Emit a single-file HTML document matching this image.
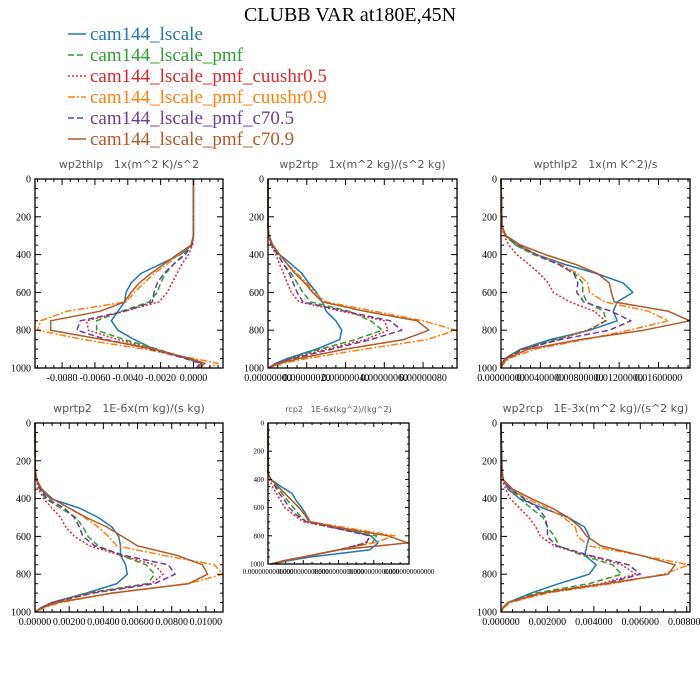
<!DOCTYPE html>
<html><head><meta charset="utf-8"><style>
body{margin:0;background:#fff}
svg{display:block}
.t{font-family:"Liberation Serif",serif}
.pt{font-family:"DejaVu Sans",sans-serif;fill:#555;white-space:pre}
</style></head><body>
<svg id="c" width="700" height="700" xmlns="http://www.w3.org/2000/svg">
<text class="t" x="350" y="21" text-anchor="middle" font-size="20">CLUBB VAR at180E,45N</text>
</svg>
<script>
const P=[0,250,300,350,400,450,500,550,600,650,700,750,800,850,900,950,975,1000];
const seriesNames=["cam144_lscale","cam144_lscale_pmf","cam144_lscale_pmf_cuushr0.5","cam144_lscale_pmf_cuushr0.9","cam144_lscale_pmf_c70.5","cam144_lscale_pmf_c70.9"];
const wp2thlp=[
[0,0,0,-0.1,-0.8,-2.0,-3.2,-3.8,-4.1,-4.2,-4.6,-5.0,-4.6,-3.6,-2.4,-0.4,0.5,0.2],
[0,0,0,-0.1,-0.6,-1.2,-1.7,-2.0,-2.2,-2.7,-4.4,-5.9,-5.9,-4.2,-2.2,-0.4,0.5,0.2],
[0,0,0,-0.05,-0.3,-0.7,-1.0,-1.3,-1.6,-2.1,-4.2,-6.5,-6.4,-4.6,-2.4,-0.4,0.55,0.3],
[0,0,0,-0.15,-0.9,-1.6,-2.4,-3.0,-3.6,-4.1,-7.7,-9.3,-9.5,-6.7,-3.0,0,1.5,0.9],
[0,0,0,-0.1,-0.5,-1.2,-1.8,-2.2,-2.4,-2.5,-4.2,-6.9,-7.1,-5.3,-2.6,-0.5,0.4,0.2],
[0,0,0,-0.15,-1.0,-1.8,-2.6,-3.3,-3.8,-4.2,-5.7,-8.7,-8.7,-5.5,-2.4,-0.2,0.7,0.4]];
const wp2rtp=[
[0,0,0.05,0.2,0.6,1.2,1.75,2.1,2.5,2.8,3.0,3.5,3.8,3.7,2.5,1.0,0.4,0],
[0,0,0.05,0.2,0.5,0.8,1.2,1.5,1.8,2.2,4.2,5.3,5.9,4.5,2.7,1.1,0.5,0],
[0,0,0.05,0.15,0.4,0.6,0.8,1.0,1.2,1.6,3.8,6.0,6.2,5.0,3.0,1.2,0.5,0],
[0,0,0.05,0.25,0.6,1.0,1.5,2.0,2.4,3.0,5.5,8.0,9.7,8.2,5.0,2.0,0.8,0],
[0,0,0.05,0.2,0.5,0.8,1.1,1.3,1.5,1.8,4.0,6.3,6.9,5.3,3.3,1.3,0.5,0],
[0,0,0.05,0.25,0.6,1.0,1.4,1.9,2.3,2.8,5.0,7.7,8.3,7.0,4.0,1.6,0.6,0]];
const wpthlp2=[
[0,0.1,0.5,1.5,3.6,6.4,9.7,12.4,13.4,11.8,11.4,11.8,9.0,5.0,2.0,0.4,0.15,0],
[0,0.1,0.4,1.5,3.3,5.8,7.5,8.3,8.3,8.7,10.4,10.7,8.8,5.5,2.0,0.4,0.15,0],
[0,0.1,0.3,0.8,1.6,2.8,3.9,4.8,5.3,7.0,9.5,10.6,8.9,5.8,2.3,0.4,0.15,0],
[0,0.1,0.5,1.8,3.6,6.0,7.8,8.8,9.0,10.5,15.0,17.0,13.0,8.5,3.5,0.8,0.3,0],
[0,0.1,0.5,1.8,3.6,5.8,7.4,7.8,7.7,8.4,11.2,13.2,11.0,6.0,2.3,0.4,0.15,0],
[0,0.1,0.5,2.0,4.5,7.5,9.8,11.0,11.2,11.5,17.0,19.2,14.5,8.0,2.8,0.6,0.2,0]];
const wprtp2=[
[0,0.02,0.1,0.3,0.9,2.6,3.7,4.5,4.9,5.0,5.0,5.3,5.4,4.8,3.0,1.0,0.4,0],
[0,0.02,0.1,0.3,0.6,1.5,2.4,2.8,3.1,3.7,5.0,6.5,7.0,6.6,3.0,1.0,0.4,0],
[0,0.02,0.08,0.2,0.5,1.0,1.5,1.8,2.3,3.2,5.0,7.0,7.5,6.8,3.2,1.0,0.4,0],
[0,0.02,0.1,0.4,1.0,2.0,2.9,3.7,4.3,4.8,7.5,10.5,11.0,9.0,4.5,1.5,0.6,0],
[0,0.02,0.1,0.3,0.7,1.7,2.3,2.6,2.8,3.5,5.2,7.8,8.2,7.0,3.4,1.1,0.4,0],
[0,0.02,0.1,0.4,1.0,2.0,3.0,4.2,5.1,6.0,8.3,9.8,10.1,9.0,4.5,1.3,0.5,0]];
const rcp2=[
[0,0,0,0,0.02,0.09,0.17,0.2,0.24,0.27,0.30,0.54,0.73,0.78,0.72,0.3,0.15,0.03],
[0,0,0,0,0.02,0.06,0.1,0.14,0.18,0.22,0.27,0.5,0.77,0.74,0.5,0.25,0.12,0.02],
[0,0,0,0,0.01,0.03,0.06,0.09,0.12,0.18,0.25,0.5,0.73,0.69,0.5,0.25,0.12,0.02],
[0,0,0,0,0.02,0.07,0.12,0.17,0.22,0.26,0.3,0.6,0.9,0.75,0.5,0.25,0.12,0.02],
[0,0,0,0,0.02,0.05,0.08,0.12,0.15,0.2,0.27,0.5,0.72,0.7,0.5,0.25,0.12,0.02],
[0,0,0,0,0.02,0.07,0.12,0.17,0.22,0.26,0.29,0.55,0.85,0.99,0.5,0.25,0.12,0.02]];
const wp2rcp=[
[0,0.05,0.1,0.3,0.8,1.8,2.9,3.6,3.8,3.7,3.6,4.1,3.8,2.5,1.3,0.3,0.1,0],
[0,0.02,0.1,0.4,0.8,1.3,1.8,2.0,2.3,2.5,3.5,4.8,5.2,3.8,1.5,0.3,0.1,0],
[0,0.02,0.05,0.2,0.4,0.8,1.2,1.5,1.7,2.3,3.7,5.2,5.8,4.3,1.7,0.3,0.1,0],
[0,0.02,0.1,0.4,1.1,2.0,2.7,3.2,3.3,3.8,6.0,8.1,7.0,4.8,2.0,0.4,0.15,0],
[0,0.02,0.1,0.4,1.0,1.6,1.9,2.0,2.0,2.4,3.8,5.5,6.0,4.5,1.8,0.3,0.1,0],
[0,0.02,0.1,0.5,1.3,2.2,2.9,3.4,3.7,4.3,6.0,7.5,7.2,4.5,1.7,0.3,0.1,0]];
const yTicks=[0,200,400,600,800,1000];
const tick1=[-8,-6,-4,-2,0], tickLab1=["-0.0080","-0.0060","-0.0040","-0.0020","0.0000"];
const tick2=[0,2,4,6,8], tickLab2=["0.00000000","0.00000020","0.00000040","0.00000060","0.00000080"];
const tick3=[0,4,8,12,16], tickLab3=["0.00000000","0.00400000","0.00800000","0.01200000","0.01600000"];
const tick4=[0,2,4,6,8,10], tickLab4=["0.00000","0.00200","0.00400","0.00600","0.00800","0.01000"];
const tick5=[0,0.25,0.5,0.75,1], tickLab5=["0.0000000000000","0.0000000000000","0.0000000000000","0.0000000000000","0.0000000000000"];
const tick6=[0,2,4,6,8], tickLab6=["0.000000","0.002000","0.004000","0.006000","0.008000"];

const colors=["#1f77b4","#2ca02c","#e0262b","#ff7f0e","#6a3d9a","#b15928"];
const dashes=["","6,3","2,2","7,2,2,2","6,3",""];
const NS="http://www.w3.org/2000/svg";
const svg=document.getElementById('c');
function mk(tag,attrs,parent){const e=document.createElementNS(NS,tag);for(const k in attrs)e.setAttribute(k,attrs[k]);(parent||svg).appendChild(e);return e;}

seriesNames.forEach((n,i)=>{
  const y=34+i*21;
  const g=mk('g',{});
  
  
  mk('line',{x1:68,x2:86,y1:y,y2:y,stroke:colors[i],'stroke-width':1.5,'stroke-dasharray':dashes[i]},g);
  const t=mk('text',{x:90,y:y+6,'font-size':19,fill:colors[i],class:'t'},g);
  t.textContent=n;
});

function panel(o){
  const g=mk('g',{});
  
  
  const sx=v=>o.x0+(v-o.d0)/(o.d1-o.d0)*(o.x1-o.x0);
  const sy=p=>o.y0+p/1000*(o.y1-o.y0);
  const fs=o.small?7:10, tl=o.small?4:6;
  o.data.forEach((arr,i)=>{
    const d=arr.map((v,k)=>(k?'L':'M')+sx(v).toFixed(1)+','+sy(P[k]).toFixed(1)).join('');
    const pth=mk('path',{d:d,fill:'none',stroke:colors[i],'stroke-width':1.5,'stroke-dasharray':dashes[i],'stroke-linejoin':'round'},g);
    
    
  });
  mk('rect',{x:o.x0,y:o.y0,width:o.x1-o.x0,height:o.y1-o.y0,fill:'none',stroke:'#000','stroke-width':1.3},g);
  for(let p=0;p<=1000;p+=50){
    const y=sy(p), L=p%200===0?tl:tl/2;
    mk('line',{x1:o.x0,x2:o.x0+L,y1:y,y2:y,stroke:'#000'},g);
    mk('line',{x1:o.x1,x2:o.x1-L,y1:y,y2:y,stroke:'#000'},g);
  }
  yTicks.forEach(p=>{
    const t=mk('text',{x:o.x0-4,y:sy(p)+fs*0.35,'font-size':fs,'text-anchor':'end',class:'t'},g);
    t.textContent=p;
  });
  const step=o.ticks[1]-o.ticks[0];
  for(let v=o.ticks[0]-step;v<=o.d1+1e-9;v+=step/4){
    if(v<o.d0-1e-9) continue;
    const x=sx(v); const maj=Math.abs(((v-o.ticks[0])/step)-Math.round((v-o.ticks[0])/step))<1e-6;
    const L=maj?tl:tl/2;
    mk('line',{x1:x,x2:x,y1:o.y1,y2:o.y1-L,stroke:'#000'},g);
    mk('line',{x1:x,x2:x,y1:o.y0,y2:o.y0+L,stroke:'#000'},g);
  }
  o.ticks.forEach((v,k)=>{
    const t=mk('text',{x:sx(v),y:o.y1+fs+3,'font-size':fs,'text-anchor':'middle',class:'t'},g);
    t.textContent=o.labs[k];
  });
  const tt=mk('text',{x:(o.x0+o.x1)/2,y:o.y0-11,'font-size':o.small?8:11,'text-anchor':'middle',class:'pt','xml:space':'preserve'},g);
  
  
  tt.textContent=o.title;
}
panel({name:'wp2thlp',title:'wp2thlp   1x(m^2 K)/s^2',x0:35,x1:223,y0:179,y1:368,d0:-9.65,d1:1.8,data:wp2thlp,ticks:tick1,labs:tickLab1});
panel({name:'wp2rtp',title:'wp2rtp   1x(m^2 kg)/(s^2 kg)',x0:268,x1:457,y0:179,y1:368,d0:0,d1:9.75,data:wp2rtp,ticks:tick2,labs:tickLab2});
panel({name:'wpthlp2',title:'wpthlp2   1x(m K^2)/s',x0:501,x1:690,y0:179,y1:368,d0:0,d1:19.2,data:wpthlp2,ticks:tick3,labs:tickLab3});
panel({name:'wprtp2',title:'wprtp2   1E-6x(m kg)/(s kg)',x0:35,x1:223,y0:423,y1:612,d0:0,d1:11.0,data:wprtp2,ticks:tick4,labs:tickLab4});
panel({name:'rcp2',title:'rcp2   1E-6x(kg^2)/(kg^2)',x0:268,x1:409,y0:423,y1:564,d0:0,d1:1,data:rcp2,ticks:tick5,labs:tickLab5,small:true});
panel({name:'wp2rcp',title:'wp2rcp   1E-3x(m^2 kg)/(s^2 kg)',x0:501,x1:690,y0:423,y1:612,d0:0,d1:8.14,data:wp2rcp,ticks:tick6,labs:tickLab6});
</script>
</body></html>
